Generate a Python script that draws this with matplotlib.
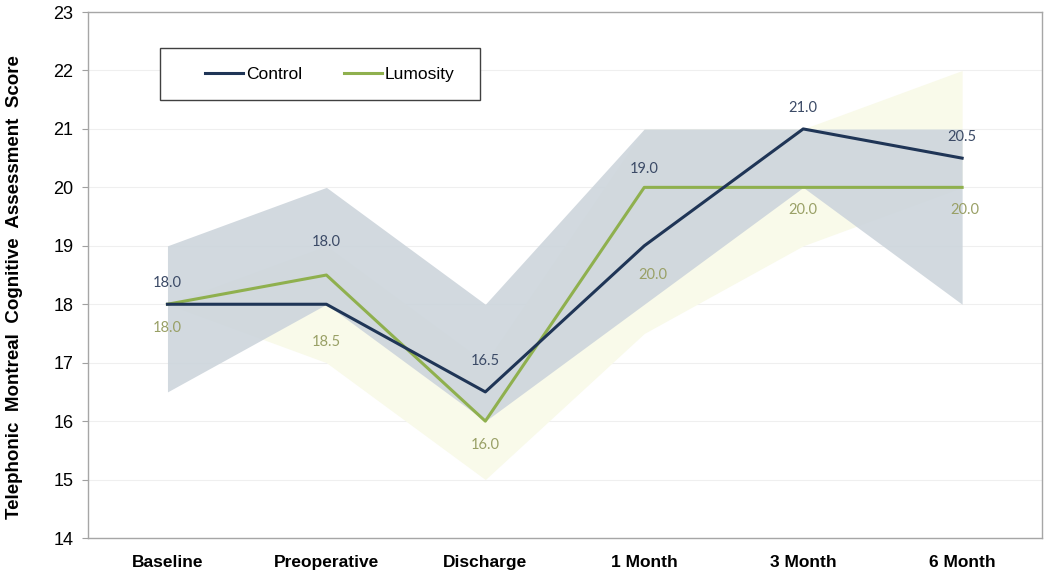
#Recreating the line chart with shaded ranges for the Control and Lumosity groups
#Packages
import matplotlib.pyplot as plt
import matplotlib.patches as mpatches
import numpy as np

#Data
categories = ["Baseline", "Preoperative", "Discharge", "1 Month", "3 Month", "6 Month"]
control = [18.0, 18.0, 16.5, 19.0, 21.0, 20.5]
control_low = [16.5, 18.0, 16.0, 18.0, 20.0, 18.0]
control_high = [19.0, 20.0, 18.0, 21.0, 21.0, 21.0]
lumosity = [18.0, 18.5, 16.0, 20.0, 20.0, 20.0]
lumosity_low = [18.0, 17.0, 15.0, 17.5, 19.0, 20.0]
lumosity_high = [18.0, 19.0, 17.0, 21.0, 21.0, 22.0]

#Colours
navy = '#1f3556'
green = '#8fb04e'
navy_txt = '#3b4a66'
green_txt = '#99a066'

#Label offsets in points (the original labels sit at odd heights)
control_off = [15, 45, 22, 55, 15, 15]
lumosity_off = [-17, -48, -17, -63, -16, -16]
lumosity_xoff = [0, 0, 0, 6, 0, 2]

x = np.arange(len(categories))

fig = plt.figure(figsize=(10.5, 5.74), dpi=100)
ax = fig.add_axes([0.0838, 0.0627, 0.9082, 0.9163])

#Shaded ranges
ax.fill_between(x, lumosity_low, lumosity_high, color='#f9faea', lw=0, zorder=1)
ax.fill_between(x, control_low, control_high, color='#cdd5dc', alpha=0.9, lw=0, zorder=2)

#Lines
ax.plot(x, control, color=navy, lw=2.2, label='Control', zorder=4)
ax.plot(x, lumosity, color=green, lw=2.2, label='Lumosity', zorder=3)

#Data labels
for i in range(len(x)):
    ax.annotate("{:.1f}".format(control[i]), (x[i], control[i]), xytext=(0, control_off[i]),
                textcoords='offset points', ha='center', va='center', fontsize=10.5,
                color=navy_txt, family='Lato', zorder=5)
    ax.annotate("{:.1f}".format(lumosity[i]), (x[i], lumosity[i]),
                xytext=(lumosity_xoff[i], lumosity_off[i]),
                textcoords='offset points', ha='center', va='center', fontsize=10.5,
                color=green_txt, family='Lato', zorder=5)

#Axes
ax.set_xlim(-0.5, 5.5)
ax.set_ylim(14, 23)
ax.set_yticks(np.arange(14, 24, 1))
ax.set_xticks(x)
ax.set_xticklabels(categories, fontsize=12.5, fontweight='bold', family='Liberation Sans')
for lab in ax.get_yticklabels():
    lab.set_fontsize(13)
    lab.set_family('Liberation Sans')
ax.tick_params(axis='x', length=0, pad=12)
ax.tick_params(axis='y', length=4.5, color='#a0a0a0', pad=6)
ax.grid(axis='y', color='#efefef', lw=0.8, zorder=0)
ax.set_axisbelow(True)
for s in ax.spines.values():
    s.set_color('#a6a6a6')
    s.set_linewidth(1.0)
ax.set_ylabel("Telephonic  Montreal  Cognitive  Assessment  Score", fontsize=13.5,
              fontweight='bold', family='Liberation Sans')
ax.yaxis.set_label_coords(-0.068, 0.477)

#Legend box and entries
box = mpatches.Rectangle((0.0755, 0.8327), 0.3354, 0.0989, transform=ax.transAxes,
                         facecolor='white', edgecolor='#404040', lw=1.0, zorder=6)
ax.add_patch(box)
leg = ax.legend(loc='center left', ncol=2, bbox_to_anchor=(0.1228, 0.882),
                frameon=False, handlelength=2.2, handletextpad=0.15, columnspacing=2.4,
                borderpad=0, borderaxespad=0, prop={'family': 'Liberation Sans', 'size': 12.5})
leg.set_zorder(7)

plt.savefig('out.png', dpi=100)
